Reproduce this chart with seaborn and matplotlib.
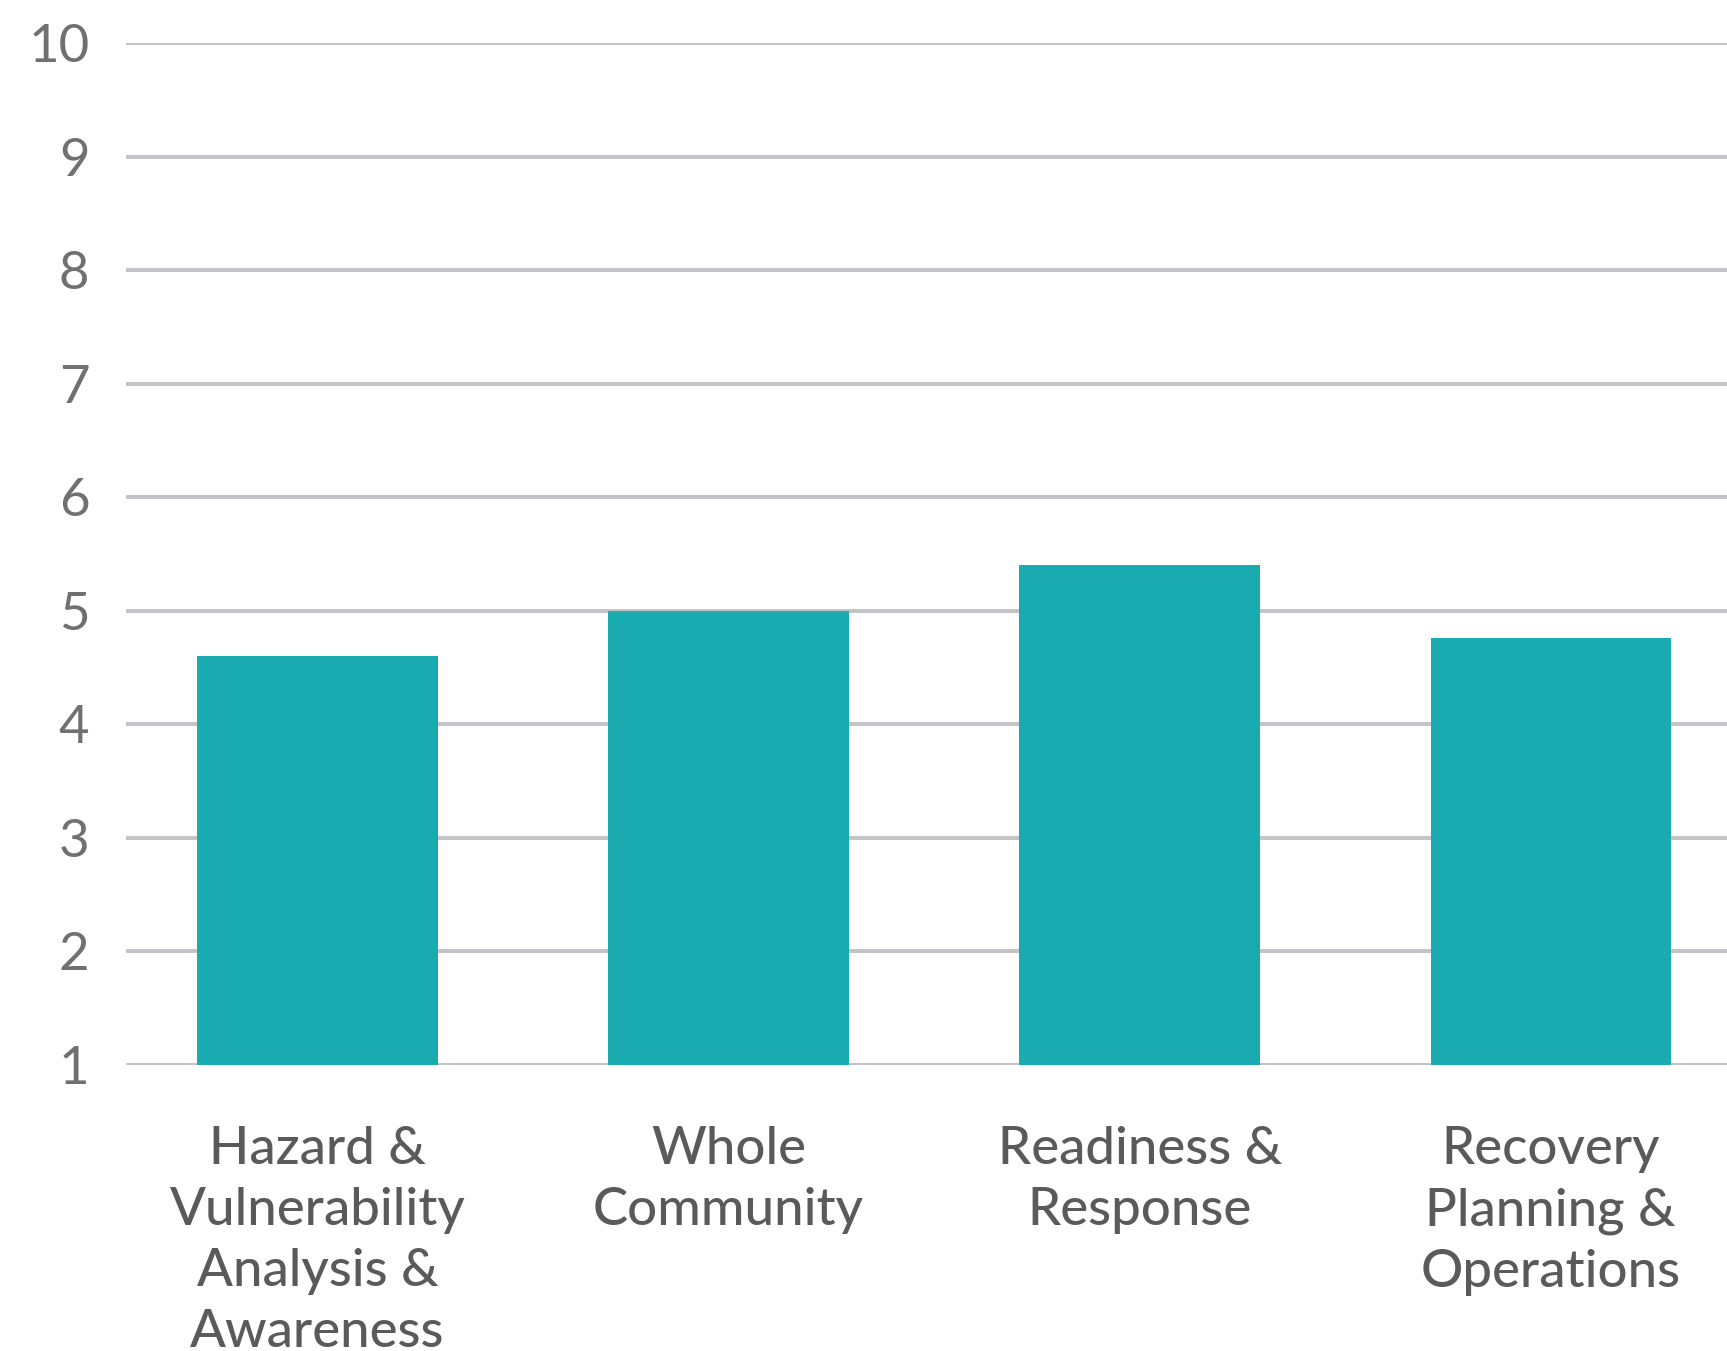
import matplotlib
matplotlib.use("Agg")
import matplotlib.pyplot as plt
import seaborn as sns
import pandas as pd

categories = [
    "Hazard &\nVulnerability\nAnalysis &\nAwareness",
    "Whole\nCommunity",
    "Readiness &\nResponse",
    "Recovery\nPlanning &\nOperations",
]
scores = [4.6, 5.0, 5.4, 4.76]
y_ticks = [1, 2, 3, 4, 5, 6, 7, 8, 9, 10]

sns.set_theme(style="white")
plt.rcParams["font.family"] = ["Lato", "DejaVu Sans"]

df = pd.DataFrame({"category": categories, "score": scores})

fig = plt.figure(figsize=(17.27, 13.51), dpi=100)
ax = fig.add_axes([0.0727, 0.2117, 0.93, 0.968 - 0.2117])

sns.barplot(data=df, x="category", y="score", color="#1aabb0", saturation=1,
            width=0.585, ax=ax, zorder=3, linewidth=0, edgecolor="none")

ax.set_ylim(1, 10)
ax.set_xlim(-0.467, 3.44)
ax.set_yticks(y_ticks)
ax.set_yticklabels([str(t) for t in y_ticks])
ax.yaxis.grid(True, color="#c3c4c7", linewidth=2.9, zorder=0)
ax.set_axisbelow(True)
for s in ax.spines.values():
    s.set_visible(False)
ax.set_xlabel("")
ax.set_ylabel("")
ax.tick_params(axis="y", length=0, pad=26, labelsize=38, labelcolor="#707070")
ax.tick_params(axis="x", length=0, pad=44, labelsize=38, labelcolor="#5a5a5a")
for lbl in ax.get_yticklabels():
    lbl.set_fontweight("normal")
for lbl in ax.get_xticklabels():
    lbl.set_fontweight("medium")
    lbl.set_linespacing(1.37)

fig.savefig("out.png", dpi=100)
